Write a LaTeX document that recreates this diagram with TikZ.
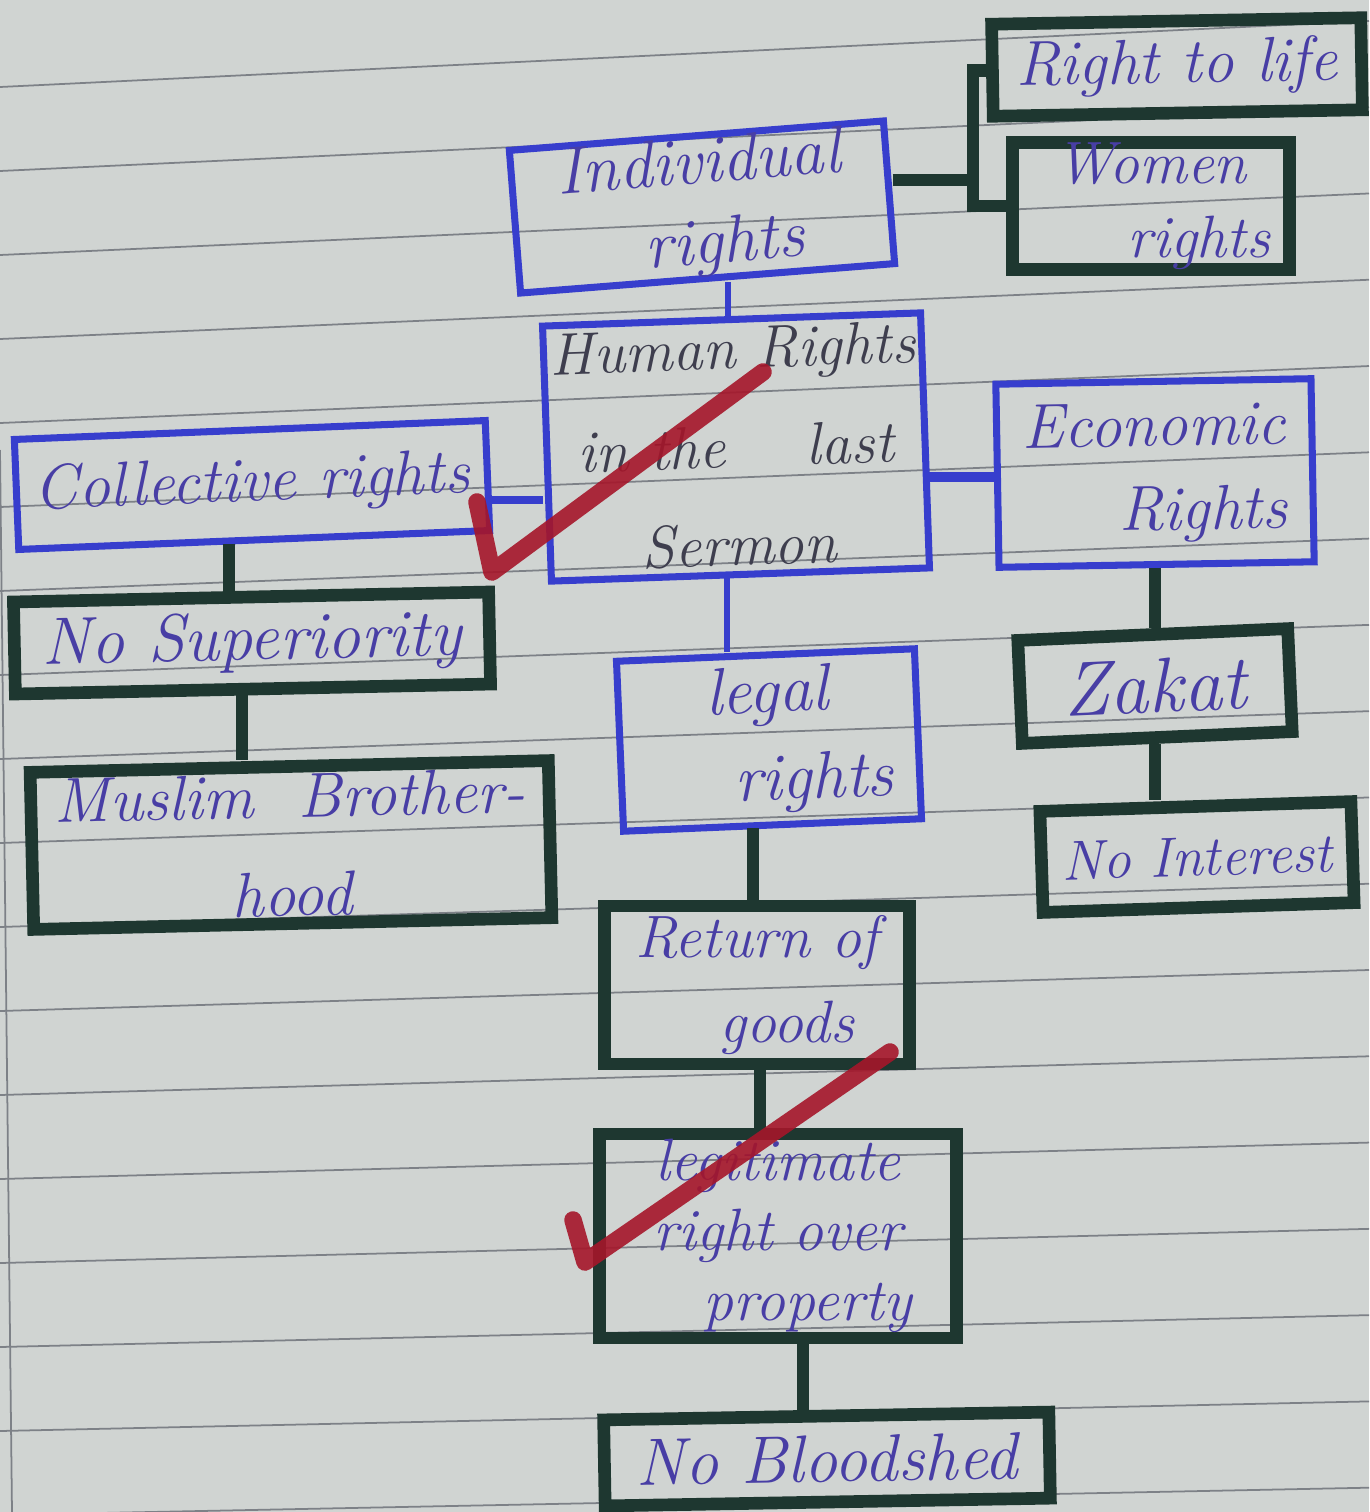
\documentclass[tikz,border=0pt]{standalone}
\usepackage{fontspec}
\definecolor{paper}{RGB}{208,212,210}
\definecolor{rulecol}{RGB}{125,129,135}
\definecolor{penblue}{RGB}{55,62,205}
\definecolor{pengreen}{RGB}{30,55,48}
\definecolor{ink}{RGB}{72,62,165}
\definecolor{inkdark}{RGB}{62,62,78}
\definecolor{checkred}{RGB}{165,22,42}
\tikzset{
  box/.style={rectangle, inner sep=0pt, align=center, text=ink,
    font=\fontsize{18}{24}\selectfont\itshape},
  bbox/.style={box, draw=penblue, line width=2pt},
  gbox/.style={box, draw=pengreen, line width=3.6pt},
  bline/.style={draw=penblue, line width=1.6pt},
  gline/.style={draw=pengreen, line width=3.6pt},
  checkmark/.style={draw=checkred, line width=5pt, line cap=round, line join=round, opacity=0.9},
  ruleline/.style={draw=rulecol, line width=0.5pt}
}
\begin{document}
\begin{tikzpicture}[x=0.01cm, y=-0.01cm]
\useasboundingbox (0,0) rectangle (1369,1512);
\fill[paper] (0,0) rectangle (1369,1512);
% ruled notebook lines
\foreach \k in {0,...,17}{
  \pgfmathsetmacro\ya{87+84*\k}
  \pgfmathsetmacro\yb{\ya-(0.05-0.03*\ya/1512)*1369}
  \draw[ruleline] (0,\ya) -- (1369,\yb);
}
\draw[ruleline] (0,450) -- (12,1512);

% boxes
\node[bbox, rotate=4.5, minimum width=3.75cm, minimum height=1.43cm, font=\fontsize{19}{23}\selectfont\itshape] (ind) at (702,207) {Individual\\\hspace*{0.6em}rights};
\node[gbox, rotate=1, minimum width=3.69cm, minimum height=0.92cm] (rtl) at (1177,67) {Right to life};
\node[gbox, minimum width=2.77cm, minimum height=1.22cm, font=\fontsize{17}{21}\selectfont\itshape] (wr) at (1151,206) {Women\\\hspace*{1.6em}rights};
\node[bbox, rotate=2, minimum width=3.78cm, minimum height=2.55cm, text=inkdark, font=\fontsize{17}{28}\selectfont\itshape] (hum) at (736,447) {Human Rights\\in the \quad last\\Sermon};
\node[bbox, rotate=2.3, minimum width=4.71cm, minimum height=1.1cm, font=\fontsize{18}{22}\selectfont\itshape] (coll) at (252,485) {Collective rights};
\node[bbox, rotate=1, minimum width=3.15cm, minimum height=1.83cm] (econ) at (1155,473) {Economic\\\hspace*{1.5em}Rights};
\node[gbox, rotate=1.2, minimum width=4.75cm, minimum height=0.92cm, font=\fontsize{19}{24}\selectfont\itshape] (nosup) at (252,643) {No Superiority};
\node[gbox, rotate=1.3, minimum width=5.18cm, minimum height=1.57cm, font=\fontsize{18}{28}\selectfont\itshape] (mus) at (291,845) {Muslim \ Brother-\\hood};
\node[bbox, rotate=2.4, minimum width=2.98cm, minimum height=1.7cm, font=\fontsize{19}{25}\selectfont\itshape] (legal) at (769,740) {legal\\\hspace*{1.3em}rights};
\node[gbox, minimum width=3.05cm, minimum height=1.58cm, font=\fontsize{17}{24}\selectfont\itshape] (ret) at (757,985) {Return of\\\hspace*{1em}goods};
\node[gbox, minimum width=3.57cm, minimum height=2.04cm, font=\fontsize{17}{20}\selectfont\itshape] (leg) at (778,1236) {legitimate\\right over\\\hspace*{1em}property};
\node[gbox, rotate=1, minimum width=4.45cm, minimum height=0.86cm, font=\fontsize{19}{24}\selectfont\itshape] (nob) at (827,1459) {No Bloodshed};
\node[gbox, rotate=2.5, minimum width=2.7cm, minimum height=1.03cm, font=\fontsize{22}{26}\selectfont\itshape] (zak) at (1155,686) {Zakat};
\node[gbox, rotate=1.8, minimum width=3.11cm, minimum height=1.01cm, font=\fontsize{16}{20}\selectfont\itshape] (noi) at (1197,857) {No Interest};

% helper coordinates for connector positions
\coordinate (br) at (973,180);
\coordinate (cA) at (728,0);
\coordinate (cB) at (0,500);
\coordinate (cC) at (0,477);
\coordinate (cD) at (229,0);
\coordinate (cE) at (242,0);
\coordinate (cF) at (727,0);
\coordinate (cG) at (753,0);
\coordinate (cH) at (760,0);
\coordinate (cI) at (803,0);
\coordinate (cJ) at (1155,0);

% connectors
\draw[gline] (ind.east |- br) -- (br);
\draw[gline] (rtl.west) -| (br) |- (wr.west);
\draw[bline] (ind.south -| cA) -- (hum.north -| cA);
\draw[bline, line width=2.2pt] (coll.east |- cB) -- (hum.west |- cB);
\draw[bline, line width=2.8pt] (hum.east |- cC) -- (econ.west |- cC);
\draw[gline] (coll.south -| cD) -- (nosup.north -| cD);
\draw[gline] (nosup.south -| cE) -- (mus.north -| cE);
\draw[bline] (hum.south -| cF) -- (legal.north -| cF);
\draw[gline] (legal.south -| cG) -- (ret.north -| cG);
\draw[gline] (ret.south -| cH) -- (leg.north -| cH);
\draw[gline] (leg.south -| cI) -- (nob.north -| cI);
\draw[gline] (econ.south -| cJ) -- (zak.north -| cJ);
\draw[gline] (zak.south -| cJ) -- (noi.north -| cJ);

% red tick marks
\draw[checkmark] (477,502) -- (492,572) -- (763,372);
\draw[checkmark] (573,1220) -- (585,1262) -- (890,1052);
\end{tikzpicture}
\end{document}
